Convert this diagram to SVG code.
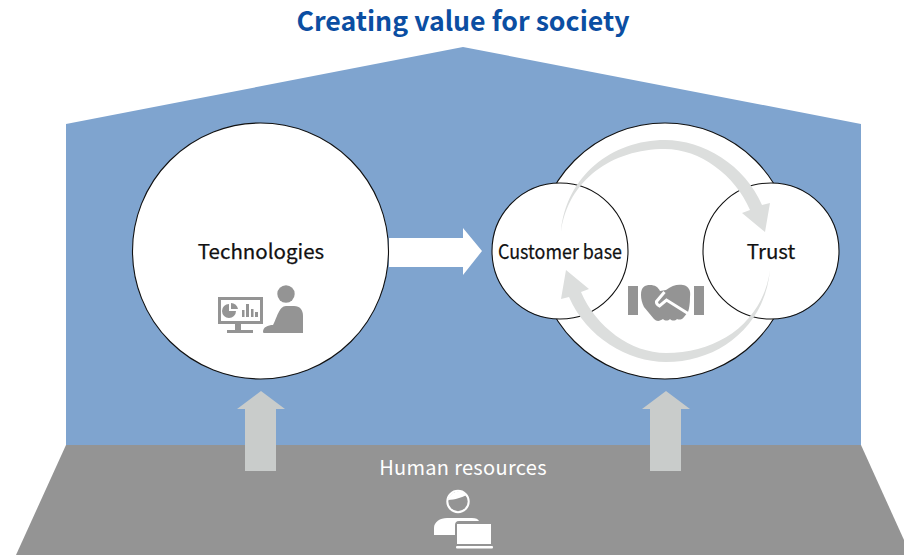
<svg xmlns="http://www.w3.org/2000/svg" width="904" height="555" viewBox="0 0 904 555">
<style>
text{font-family:"Noto Sans CJK JP","Noto Sans",sans-serif;text-anchor:middle}
.lbl{font-size:20.500px;font-weight:400;fill:#111;stroke:#111;stroke-width:.25px}
.circ{fill:#fff;stroke:#111;stroke-width:1.1}
.up{fill:#c9cccb}
.ring{fill:#dcdedd}
.ic{fill:#949494}
</style>
<defs>
<path id="crescent" d="M561 232C566 176 612 140 665 140C703 140 745 165 762 205L770 203L765 232L742 213L750 210C735 175 700 149 665 149C612 149 568 180 561 232Z"/>
</defs>
<rect width="904" height="555" fill="#fff"/>
<g id="house"><polygon points="66,124 463,47 861,124 861,445 66,445" fill="#7fa4cf"/></g>
<g id="ground"><polygon points="66,445 861,445 904,540 904,555 16,555" fill="#949494"/></g>
<text id="title" x="463" y="31" font-size="26.700" font-weight="700" fill="#0b4ea2">Creating value for society</text>
<g id="connectors">
<polygon class="up" points="261,391 285,409 276,409 276,471 245,471 245,409 237,409"/>
<polygon class="up" points="666,391 690,409 681,409 681,471 650,471 650,409 642,409"/>
<polygon fill="#fff" points="389,238 463,238 463,228 482,251 463,275 463,267 389,267"/>
</g>
<g id="technologies">
<circle class="circ" cx="260.500" cy="251" r="128"/>
<text class="lbl" x="261" y="259">Technologies</text>
<g class="ic">
<circle cx="286" cy="294" r="8.700"/>
<path d="M263 332C263 327 268 325 273 325C277 318 279 306 286 306H294C300 306 303 310 303 316V333H266C264 333 263 333 263 332Z"/>
<path fill-rule="evenodd" d="M218 297H263V324H218ZM221 300V321H260V300Z"/>
<rect x="235" y="324" width="6" height="7"/><rect x="227" y="330" width="26" height="3"/>
<path d="M229 304V311H236A7 7 0 1 1 229 304Z"/><path d="M231 303A7 7 0 0 1 238 309H231Z"/>
<rect x="242" y="310" width="2.500" height="7"/><rect x="246" y="304" width="3" height="13"/><rect x="251" y="309" width="2.500" height="8"/><rect x="255" y="312" width="3" height="5"/>
</g>
</g>
<g id="relationship">
<circle class="circ" cx="665" cy="251" r="128"/>
</g>
<g id="customer-base">
<circle class="circ" cx="560" cy="251" r="68"/>
</g>
<g id="trust">
<circle class="circ" cx="771" cy="251" r="68"/>
</g>
<g id="cycle">
<use href="#crescent" class="ring"/>
<use href="#crescent" class="ring" transform="rotate(180 665.500 251)"/>
</g>
<text class="lbl" x="560" y="259" textLength="124" lengthAdjust="spacingAndGlyphs">Customer base</text>
<text class="lbl" x="771" y="259">Trust</text>
<g id="handshake" class="ic">
<rect x="628" y="286" width="10" height="29"/><rect x="694" y="286" width="10" height="29"/>
<path d="M641 295C641 287 645 285 650 285C655 285 658 287 660 291L666 290C672 285 678 284 683 285C689 286 691 291 690 297C690 304 689 309 688 312L684 317C682 320 679 320 677 319C675 321 672 321 670 319C668 321 665 321 663 319C660 321 657 322 654 319L644 307C642 303 641 299 641 295Z"/>
<path d="M664.500 292L656.500 301.500Q656 304 659.500 306L666.500 300L688 313.500" fill="none" stroke="#fff" stroke-width="3"/>
</g>
<g id="human-resources">
<text x="463" y="475" font-size="20" fill="#fff" style="letter-spacing:.3px">Human resources</text>
<circle cx="458" cy="501.500" r="10.700" fill="none" stroke="#fff" stroke-width="2"/>
<path d="M448 500C455 500 462 497 467 495A11 11 0 0 0 448 500Z" fill="#fff"/>
<path d="M434 535V528C434 522 440 518 447 518H472C476 518 478 519 479 521H459C456 521 455 523 455 525V535Z" fill="#fff"/>
<rect x="457" y="524" width="34" height="20" fill="#fff"/>
<rect x="456" y="546" width="37" height="2.500" rx="1" fill="#fff"/>
</g>
</svg>
